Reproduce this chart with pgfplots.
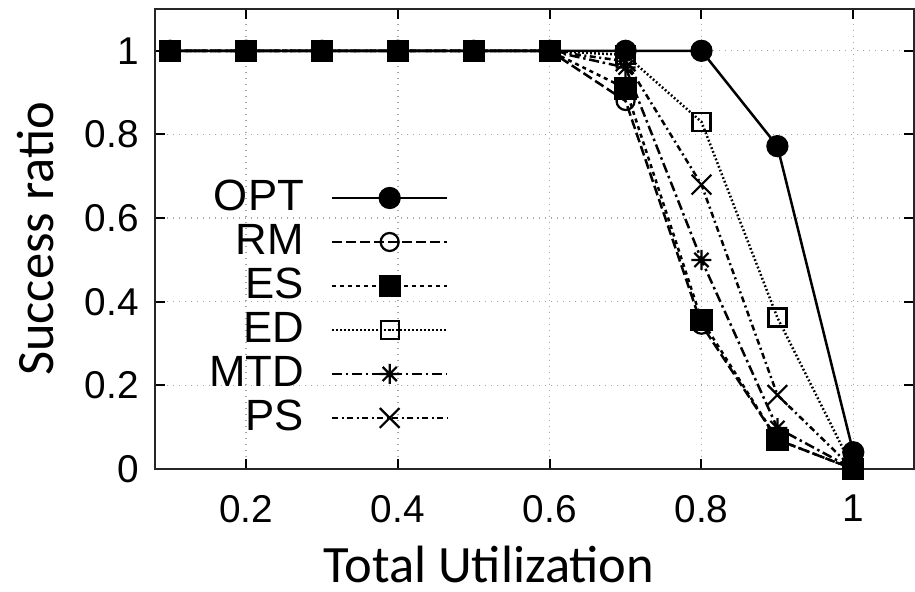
\documentclass[border=0pt]{standalone}
\usepackage{fontspec}
\setmainfont{Liberation Sans}
\newfontfamily\carlito{Carlito}
\usepackage{pgfplots}
\pgfplotsset{compat=1.18}
\usetikzlibrary{calc,plotmarks}

% gnuplot-style star: a plus and a cross laid over each other
\pgfdeclareplotmark{gpstar}{%
  \pgfpathmoveto{\pgfqpoint{0pt}{-\pgfplotmarksize}}%
  \pgfpathlineto{\pgfqpoint{0pt}{\pgfplotmarksize}}%
  \pgfpathmoveto{\pgfqpoint{-\pgfplotmarksize}{0pt}}%
  \pgfpathlineto{\pgfqpoint{\pgfplotmarksize}{0pt}}%
  \pgfpathmoveto{\pgfqpoint{-.7071\pgfplotmarksize}{-.7071\pgfplotmarksize}}%
  \pgfpathlineto{\pgfqpoint{.7071\pgfplotmarksize}{.7071\pgfplotmarksize}}%
  \pgfpathmoveto{\pgfqpoint{-.7071\pgfplotmarksize}{.7071\pgfplotmarksize}}%
  \pgfpathlineto{\pgfqpoint{.7071\pgfplotmarksize}{-.7071\pgfplotmarksize}}%
  \pgfusepathqstroke
}

\begin{document}
\begin{tikzpicture}
\begin{axis}[
    name=ax,
    scale only axis,
    width=303.6pt, height=184pt,
    xmin=0.08, xmax=1.08,
    ymin=0, ymax=1.1,
    xtick={0.2,0.4,0.6,0.8,1},
    ytick={0,0.2,0.4,0.6,0.8,1},
    /pgf/number format/assume math mode=true,
    tick label style={font=\fontsize{15.5}{18}\selectfont},
    xticklabel style={yshift=-7pt},
    yticklabel style={xshift=-3pt},
    tick align=inside,
    major tick length=4pt,
    tick style={black, line width=0.8pt},
    axis line style={black!85, line width=0.9pt},
    grid=major,
    grid style={gray!70, dotted, line width=0.5pt},
    xlabel={Total Utilization},
    ylabel={Success ratio},
    label style={font=\carlito\fontsize{21}{24}\selectfont},
    xlabel style={at={(axis description cs:0.44,-0.207)}, anchor=center},
    ylabel style={at={(axis description cs:-0.158,0.5)}, anchor=center, rotate=0},
    legend style={at={(axis description cs:0.226,0.35)}, anchor=center,
        draw=none, fill=none, font=\fontsize{17.5}{20}\selectfont,
        row sep=0pt, column sep=9pt,
        nodes={inner sep=1.8pt, text height=12pt, text depth=2pt}},
    legend cell align=right,
    legend plot pos=right,
    legend image code/.code={
        \draw[mark repeat=2,mark phase=2,#1]
            plot coordinates {(0pt,0pt) (23pt,0pt) (46pt,0pt)};
    },
    every axis plot/.append style={black, line width=1pt,
        mark options={solid, line width=0.9pt}},
]
% OPT
\addplot[solid, mark=*, mark size=4pt] coordinates {
    (0.1,1) (0.2,1) (0.3,1) (0.4,1) (0.5,1) (0.6,1)
    (0.7,1) (0.8,1) (0.9,0.772) (1.0,0.04)
};
% RM
\addplot[dash pattern=on 4pt off 1.6pt, mark=o, mark size=3.6pt] coordinates {
    (0.1,1) (0.2,1) (0.3,1) (0.4,1) (0.5,1) (0.6,1)
    (0.7,0.88) (0.8,0.345) (0.9,0.07) (1.0,0)
};
% ES
\addplot[dash pattern=on 1.6pt off 1.6pt, mark=square*, mark size=4pt] coordinates {
    (0.1,1) (0.2,1) (0.3,1) (0.4,1) (0.5,1) (0.6,1)
    (0.7,0.91) (0.8,0.357) (0.9,0.07) (1.0,0)
};
% ED
\addplot[dash pattern=on 0.7pt off 0.9pt, mark=square, mark size=3.6pt] coordinates {
    (0.1,1) (0.2,1) (0.3,1) (0.4,1) (0.5,1) (0.6,1)
    (0.7,0.99) (0.8,0.83) (0.9,0.362) (1.0,0)
};
% MTD
\addplot[dash pattern=on 4pt off 1.5pt on 1pt off 1.5pt, mark=gpstar, mark size=4pt] coordinates {
    (0.1,1) (0.2,1) (0.3,1) (0.4,1) (0.5,1) (0.6,1)
    (0.7,0.96) (0.8,0.50) (0.9,0.098) (1.0,0)
};
% PS
\addplot[dash pattern=on 2.4pt off 1.4pt on 0.8pt off 1.4pt, mark=x, mark size=5.6pt] coordinates {
    (0.1,1) (0.2,1) (0.3,1) (0.4,1) (0.5,1) (0.6,1)
    (0.7,0.975) (0.8,0.68) (0.9,0.177) (1.0,0)
};
\legend{OPT, RM, ES, ED, MTD, PS}
\end{axis}
\pgfresetboundingbox
\path[use as bounding box] ($(ax.south west)+(-62pt,-49.2pt)$) rectangle ($(ax.north east)+(0.4pt,3.6pt)$);
\end{tikzpicture}
\end{document}
